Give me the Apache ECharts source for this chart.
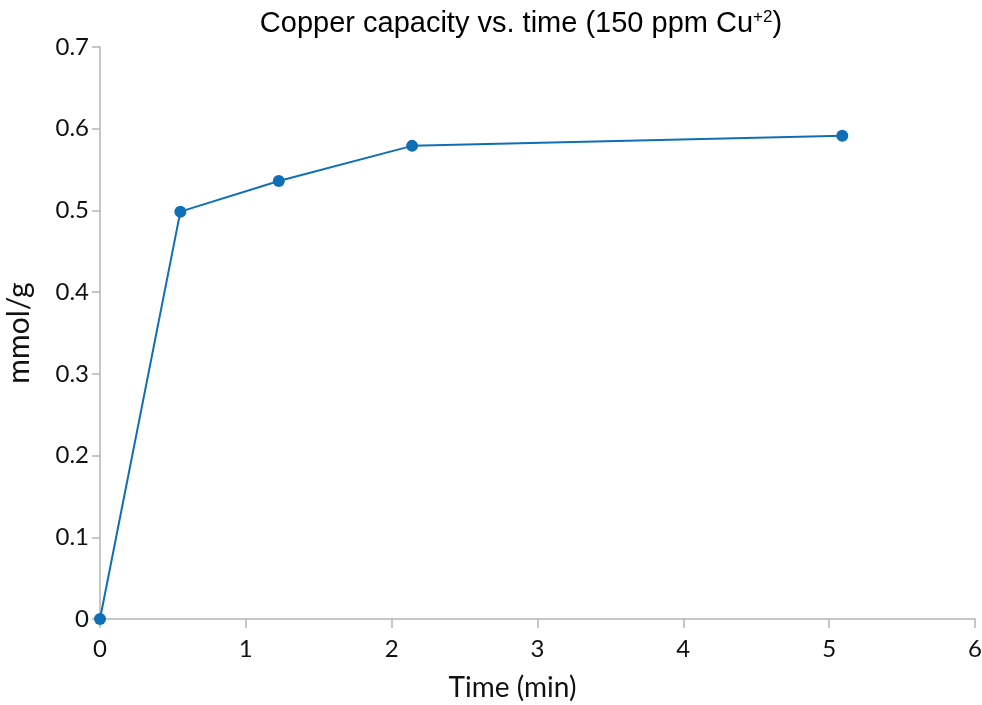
<!DOCTYPE html>
<html><head><meta charset="utf-8">
<script src="https://cdn.jsdelivr.net/npm/echarts@6/dist/echarts.min.js"></script>
<style>html,body{margin:0;padding:0;background:#fff}#c{width:982px;height:705px}</style>
</head><body><div id="c"></div>
<script>
var times = [0, 0.551, 1.226, 2.14, 5.09];
var capacity = [0, 0.4985, 0.536, 0.579, 0.5915];
var xTicks = [0, 1, 2, 3, 4, 5, 6];
var yTicks = [0, 0.1, 0.2, 0.3, 0.4, 0.5, 0.6, 0.7];

var chart = echarts.init(document.getElementById('c'));
var axisFont = 'Lato, "Open Sans", sans-serif';
chart.setOption({
  animation: false,
  title: {
    text: 'Copper capacity vs. time (150 ppm Cu{sup|+2})',
    left: 516, textAlign: 'center', top: 4,
    textStyle: {
      fontFamily: '"Liberation Sans", Arial, sans-serif', fontSize: 29, fontWeight: 'normal', color: '#000',
      rich: { sup: { fontSize: 17, verticalAlign: 'top', padding: [0,0,12,0], fontFamily: '"Liberation Sans", Arial, sans-serif', color:'#000' } }
    }
  },
  grid: { left: 100, right: 7, top: 47, bottom: 86, containLabel: false, outerBoundsMode: 'none' },
  xAxis: {
    type: 'value', min: 0, max: 6, interval: 1,
    name: 'Time (min)', nameLocation: 'middle', nameGap: 55,
    nameTextStyle: { fontFamily: axisFont, fontSize: 28, color: '#111', padding: [0, 50, 0, 0] },
    axisLine: { show: true, lineStyle: { color: '#b5b5b5', width: 1.5 } },
    axisTick: { show: true, length: 9, lineStyle: { color: '#b5b5b5', width: 1.5 } },
    axisLabel: { fontFamily: axisFont, fontSize: 24, color: '#111', margin: 18,
      formatter: function (v) { return xTicks.indexOf(v) >= 0 ? String(v) : ''; } },
    splitLine: { show: false }
  },
  yAxis: {
    type: 'value', min: 0, max: 0.7, interval: 0.1,
    name: 'mmol/g', nameLocation: 'middle', nameGap: 66, nameRotate: 90,
    nameTextStyle: { fontFamily: axisFont, fontSize: 30, color: '#111' },
    axisLine: { show: true, lineStyle: { color: '#b5b5b5', width: 1.5 } },
    axisTick: { show: true, length: 8, lineStyle: { color: '#b5b5b5', width: 1.5 } },
    axisLabel: { fontFamily: axisFont, fontSize: 24, color: '#111', margin: 11,
      formatter: function (v) { var r = Math.round(v*10)/10; return yTicks.indexOf(r) >= 0 ? String(r) : ''; } },
    splitLine: { show: false }
  },
  series: [{
    type: 'line',
    data: times.map(function (t, i) { return [t, capacity[i]]; }),
    symbol: 'circle', symbolSize: 12,
    lineStyle: { color: '#0e6fb6', width: 2 },
    itemStyle: { color: '#0e6fb6' }
  }]
});
</script></body></html>
